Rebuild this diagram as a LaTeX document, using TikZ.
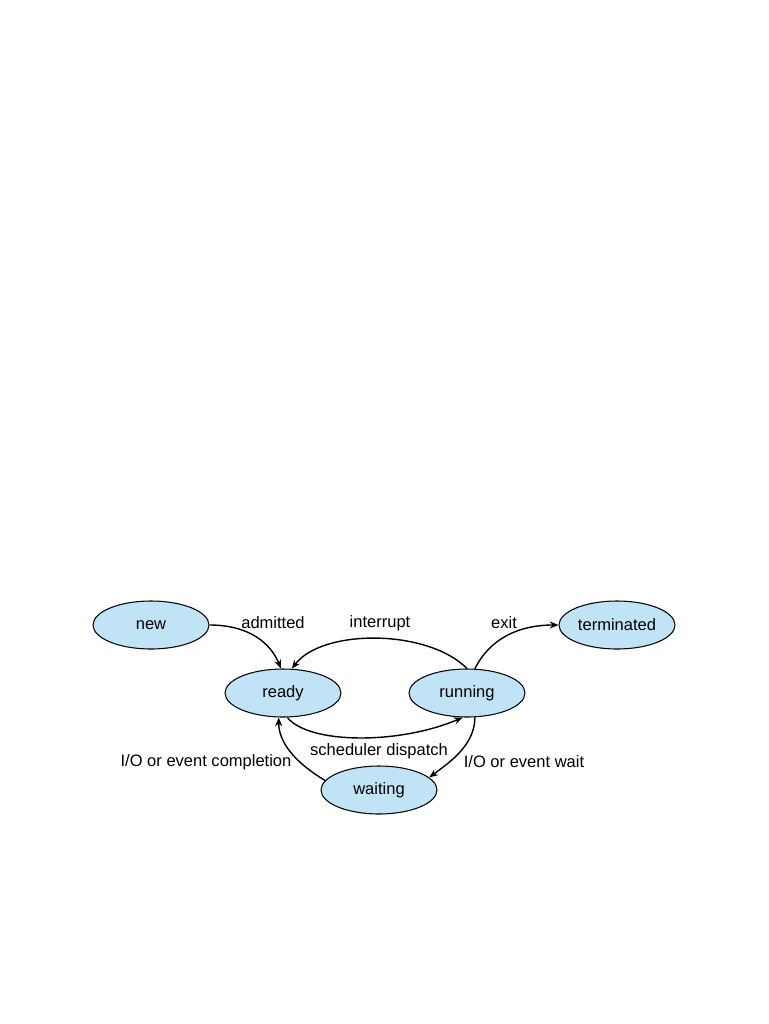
\documentclass[tikz,border=0pt]{standalone}
\usepackage{fontspec}
\setmainfont{Liberation Sans}
\usepackage{tikz}
\usetikzlibrary{arrows.meta, shapes.geometric}
\usepackage{xcolor}
\definecolor{stateblue}{RGB}{192,228,246}

\begin{document}
\begin{tikzpicture}[x=0.02cm, y=-0.02cm,
  state/.style={ellipse, draw, line width=0.6pt, fill=stateblue, minimum width=2.32cm, minimum height=0.96cm, inner sep=0pt},
  trans/.style={line width=0.8pt, -{Stealth[length=5pt,width=4pt]}},
  lbl/.style={inner sep=0pt},
  every node/.style={font=\fontsize{9.4}{11}\selectfont}]
\useasboundingbox (0,0) rectangle (768,1024);
% process states
\node[state] (new) at (151,625) {new};
\node[state] (ready) at (283,693) {ready};
\node[state] (running) at (467,693) {running};
\node[state] (terminated) at (617,625) {terminated};
\node[state] (waiting) at (379,790) {waiting};

% transitions
\draw[trans] (new.east) .. controls +(40,0) and +(-10,-25) .. (ready.95);
\draw[trans] (running.north) .. controls +(-40,-40) and +(30,-40) .. (ready.70);
\draw[trans] (running.72) .. controls +(15,-30) and +(-40,0) .. (terminated.west);
\draw[trans] (ready.-80) .. controls +(22,27) and +(-63,27) .. (running.-100);
\draw[trans] (running.-72) .. controls +(0,28) and +(20,-15) .. (waiting.14);
\draw[trans] (waiting.170) .. controls +(-25,-15) and +(0,28) .. (ready.-100);

% labels
\node[lbl] (admitted) at (273,623) {admitted};
\node[lbl] (interrupt) at (380,623) {interrupt};
\node[lbl] (exit) at (504,623) {exit};
\node[lbl] (dispatch) at (379,751) {scheduler dispatch};
\node[lbl] (completion) at (206,762) {I/O or event completion};
\node[lbl] (wait) at (524,762) {I/O or event wait};
\end{tikzpicture}
\end{document}
